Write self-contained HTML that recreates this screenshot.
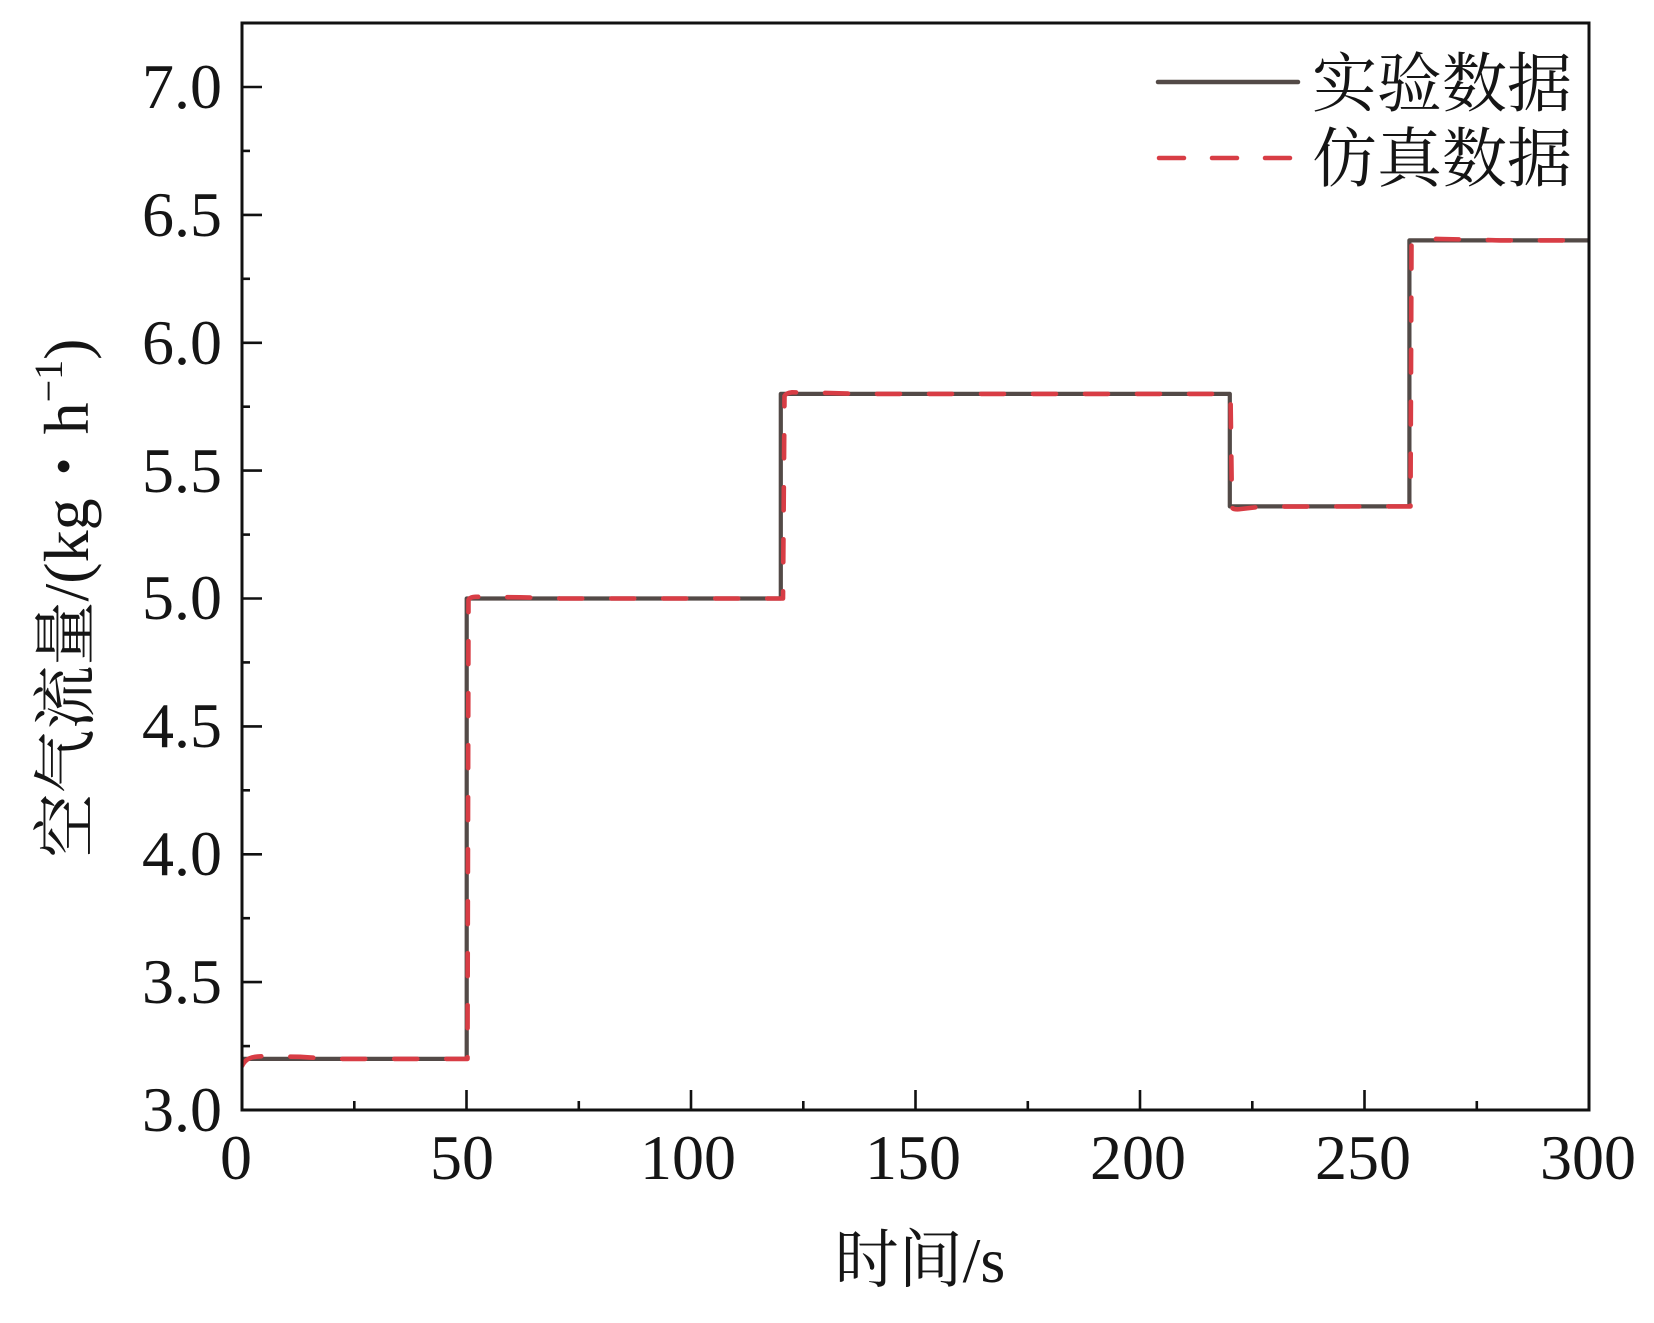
<!DOCTYPE html>
<html>
<head>
<meta charset="utf-8">
<style>
  html, body { margin: 0; padding: 0; background: #ffffff; }
  svg { display: block; }
  .num { font-family: "Liberation Serif", "Times New Roman", serif; font-size: 64px; fill: #151515; }
  .cjk { font-family: "Liberation Serif", "Noto Serif CJK SC", serif; fill: #151515; }
</style>
</head>
<body>
<svg width="1654" height="1323" viewBox="0 0 1654 1323" xmlns="http://www.w3.org/2000/svg">
  <rect x="0" y="0" width="1654" height="1323" fill="#ffffff"/>
  <defs>
    <clipPath id="plot">
      <rect x="242" y="23" width="1347" height="1087"/>
    </clipPath>
  </defs>

  <!-- data series -->
  <g clip-path="url(#plot)" fill="none" stroke-linejoin="round">
    <path d="M242,1058.9 H466.7 V598.5 H780.8 V393.9 H1229.8 V506.4 H1409.4 V240.4 H1592"
          stroke="#534a47" stroke-width="4.2"/>
    <path d="M242,1066 C246,1058 252,1056.5 262,1056.3 L300,1056.8 L330,1058.9 L467.5,1058.9
             L468.5,600 Q469.5,597 476,596.8 L520,597.3 L560,598.5 L783,598.5
             L784.5,396 Q786,393 792,392.3 L830,393 L860,393.9 L1230.5,393.9
             L1232,507.5 Q1233.5,510 1241,509 L1262,506.6 L1410.5,506.4
             L1411.5,242 Q1413,239 1420,238.7 L1460,239.4 L1500,240.4 L1592,240.4"
          stroke="#d83d45" stroke-width="4.6" stroke-linecap="round" stroke-dasharray="23 29"/>
  </g>

  <!-- frame -->
  <rect x="242" y="23" width="1347" height="1087" fill="none" stroke="#111" stroke-width="3"/>

  <!-- y ticks -->
  <g stroke="#111" stroke-width="2.6">
    <line x1="242" y1="1110" x2="262" y2="1110"/>
    <line x1="242" y1="982.1" x2="262" y2="982.1"/>
    <line x1="242" y1="854.3" x2="262" y2="854.3"/>
    <line x1="242" y1="726.4" x2="262" y2="726.4"/>
    <line x1="242" y1="598.5" x2="262" y2="598.5"/>
    <line x1="242" y1="470.6" x2="262" y2="470.6"/>
    <line x1="242" y1="342.8" x2="262" y2="342.8"/>
    <line x1="242" y1="214.9" x2="262" y2="214.9"/>
    <line x1="242" y1="87" x2="262" y2="87"/>
    <line x1="242" y1="1046.1" x2="250" y2="1046.1"/>
    <line x1="242" y1="918.2" x2="250" y2="918.2"/>
    <line x1="242" y1="790.3" x2="250" y2="790.3"/>
    <line x1="242" y1="662.4" x2="250" y2="662.4"/>
    <line x1="242" y1="534.6" x2="250" y2="534.6"/>
    <line x1="242" y1="406.7" x2="250" y2="406.7"/>
    <line x1="242" y1="278.8" x2="250" y2="278.8"/>
    <line x1="242" y1="150.9" x2="250" y2="150.9"/>
  </g>

  <!-- x ticks -->
  <g stroke="#111" stroke-width="2.6">
    <line x1="466.5" y1="1110" x2="466.5" y2="1090"/>
    <line x1="691" y1="1110" x2="691" y2="1090"/>
    <line x1="915.5" y1="1110" x2="915.5" y2="1090"/>
    <line x1="1140" y1="1110" x2="1140" y2="1090"/>
    <line x1="1364.5" y1="1110" x2="1364.5" y2="1090"/>
    <line x1="354.3" y1="1110" x2="354.3" y2="1101"/>
    <line x1="578.8" y1="1110" x2="578.8" y2="1101"/>
    <line x1="803.3" y1="1110" x2="803.3" y2="1101"/>
    <line x1="1027.8" y1="1110" x2="1027.8" y2="1101"/>
    <line x1="1252.3" y1="1110" x2="1252.3" y2="1101"/>
    <line x1="1476.8" y1="1110" x2="1476.8" y2="1101"/>
  </g>

  <!-- y tick labels -->
  <g class="num" text-anchor="end">
    <text x="222" y="1131">3.0</text>
    <text x="222" y="1003">3.5</text>
    <text x="222" y="875">4.0</text>
    <text x="222" y="747">4.5</text>
    <text x="222" y="619">5.0</text>
    <text x="222" y="492">5.5</text>
    <text x="222" y="364">6.0</text>
    <text x="222" y="236">6.5</text>
    <text x="222" y="108">7.0</text>
  </g>

  <!-- x tick labels -->
  <g class="num" text-anchor="middle">
    <text x="236" y="1179">0</text>
    <text x="462" y="1179">50</text>
    <text x="688" y="1179">100</text>
    <text x="913" y="1179">150</text>
    <text x="1138" y="1179">200</text>
    <text x="1363" y="1179">250</text>
    <text x="1588" y="1179">300</text>
  </g>

  <!-- x axis title -->
  <text class="cjk" x="920" y="1282" text-anchor="middle" style="font-size:64px">时间/s</text>

  <!-- y axis title -->
  <text class="cjk" x="0" y="0" text-anchor="middle" style="font-size:64px"
        transform="translate(88,598) rotate(-90)">空气流量/(kg・h<tspan style="font-size:40px" dy="-26">−1</tspan><tspan dy="26">)</tspan></text>

  <!-- legend -->
  <line x1="1158" y1="82" x2="1298" y2="82" stroke="#534a47" stroke-width="4.5" stroke-linecap="round"/>
  <g stroke="#d83d45" stroke-width="4.5" stroke-linecap="round">
    <line x1="1159" y1="158" x2="1184" y2="158"/>
    <line x1="1212" y1="158" x2="1237" y2="158"/>
    <line x1="1265" y1="158" x2="1290" y2="158"/>
  </g>
  <g class="cjk" style="font-size:65px">
    <text x="1312" y="106">实验数据</text>
    <text x="1312" y="181">仿真数据</text>
  </g>
</svg>
</body>
</html>
